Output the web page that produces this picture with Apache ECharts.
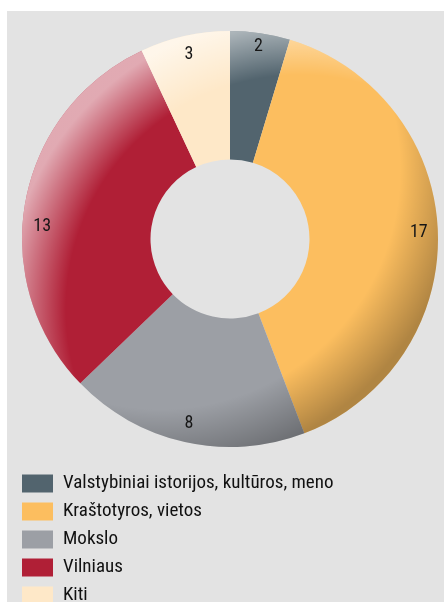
<!DOCTYPE html>
<html>
<head>
<meta charset="utf-8">
<script src="https://cdn.jsdelivr.net/npm/echarts@6/dist/echarts.min.js"></script>
<style>
  html, body { margin: 0; padding: 0; background: #fff; }
  #chart { position: absolute; left: 7px; top: 11px; width: 437px; height: 591px; }
</style>
</head>
<body>
<div id="chart"></div>
<script>
// duomenys
const categories = ['Valstybiniai istorijos, kultūros, meno', 'Kraštotyros, vietos', 'Mokslo', 'Vilniaus', 'Kiti']
const values = [2, 17, 8, 13, 3]
const baseColors = ['#52646e', '#fcbe5f', '#9c9fa5', '#b01f36', '#fee8c8']

const fontFamily = '"Roboto Condensed", "DejaVu Sans Condensed", sans-serif'
const cx = 223
const cy = 228
const R = 208
const r0 = 79.5

// label "13" sits lower than the slice middle in the original
const labelNudge = { 'Vilniaus': [-2, 22], 'Valstybiniai istorijos, kultūros, meno': [1, -6] }

// shading: light rim at top-left, dark rim at bottom-right
const darkShade = {
  type: 'radial', x: cx - 70, y: cy - 70, r: 300, global: true,
  colorStops: [
    { offset: 0, color: 'rgba(0,0,0,0)' },
    { offset: 0.8, color: 'rgba(0,0,0,0)' },
    { offset: 1, color: 'rgba(0,0,0,0.3)' }
  ]
}
const lightShade = {
  type: 'radial', x: cx + 70, y: cy + 70, r: 300, global: true,
  colorStops: [
    { offset: 0, color: 'rgba(255,255,255,0)' },
    { offset: 0.78, color: 'rgba(255,255,255,0)' },
    { offset: 0.98, color: 'rgba(255,255,255,0.62)' },
    { offset: 1, color: 'rgba(255,255,255,0.62)' }
  ]
}

const baseData = categories.map(function (name, i) {
  return { name: name, value: values[i], itemStyle: { color: baseColors[i] } }
})
const shadeData = categories.map(function (name, i) {
  return { name: name, value: values[i] }
})
const labelData = categories.map(function (name, i) {
  return { name: name, value: values[i], label: { offset: labelNudge[name] || [0, 0] } }
})

function ring (data, color, extra) {
  return Object.assign({
    type: 'pie',
    center: [cx, cy],
    radius: [r0, R],
    startAngle: 90,
    clockwise: true,
    silent: true,
    itemStyle: { color: color, borderWidth: 0 },
    label: { show: false },
    labelLine: { show: false },
    data: data
  }, extra || {})
}

const myChart = echarts.init(document.getElementById('chart'))
myChart.setOption({
  backgroundColor: '#e3e3e3',
  animation: false,
  legend: {
    orient: 'vertical',
    left: 15,
    top: 463,
    height: 160,
    padding: 0,
    itemWidth: 31,
    itemHeight: 18,
    itemGap: 9,
    icon: 'rect',
    selectedMode: false,
    data: categories.map(function (name, i) {
      return { name: name, itemStyle: { color: baseColors[i] } }
    }),
    textStyle: {
      fontFamily: fontFamily,
      fontSize: 19,
      lineHeight: 18,
      height: 18,
      color: '#111',
      padding: [0, 0, 0, 5]
    }
  },
  series: [
    ring(baseData),
    ring(shadeData, darkShade),
    ring(shadeData, lightShade),
    // label ring near the outer edge
    ring(labelData, 'rgba(0,0,0,0)', {
      radius: [166, 206],
      label: {
        show: true,
        position: 'inside',
        formatter: '{c}',
        fontFamily: fontFamily,
        fontSize: 18,
        color: '#161616'
      }
    })
  ]
})
</script>
</body>
</html>
